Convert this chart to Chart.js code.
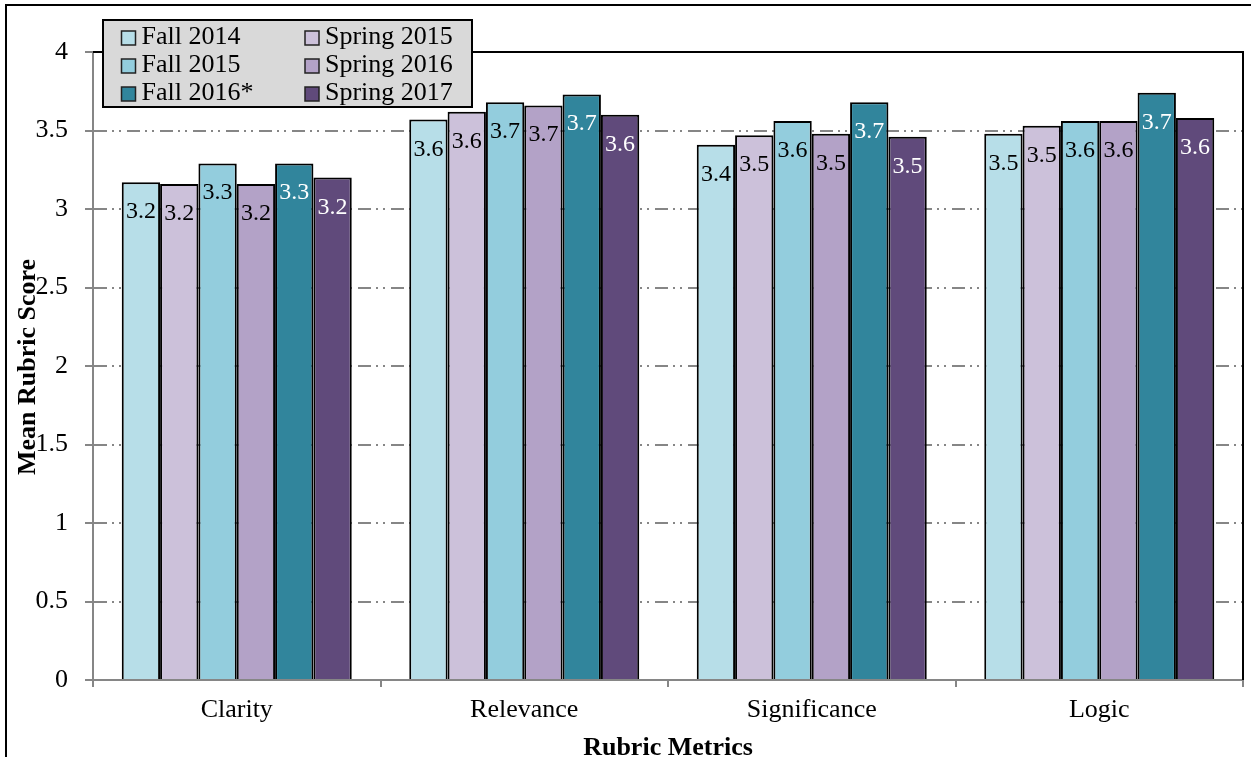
<!DOCTYPE html>
<html><head><meta charset="utf-8">
<script src="https://cdn.jsdelivr.net/npm/chart.js@4.4.0/dist/chart.umd.min.js"></script>
<style>html,body{margin:0;padding:0;background:#fff;} canvas{display:block;}</style>
</head><body>
<canvas id="c" width="1253" height="757"></canvas>
<script>
const categories = ['Clarity', 'Relevance', 'Significance', 'Logic'];
const seriesNames = ['Fall 2014', 'Spring 2015', 'Fall 2015', 'Spring 2016', 'Fall 2016*', 'Spring 2017'];
const fall2014 = [3.17, 3.57, 3.41, 3.48];
const spring2015 = [3.16, 3.62, 3.47, 3.53];
const fall2015 = [3.29, 3.68, 3.56, 3.56];
const spring2016 = [3.16, 3.66, 3.48, 3.56];
const fall2016 = [3.29, 3.73, 3.68, 3.74];
const spring2017 = [3.20, 3.60, 3.46, 3.58];
const yTickLabels = ['0', '0.5', '1', '1.5', '2', '2.5', '3', '3.5', '4'];
const xTitle = 'Rubric Metrics';
const yTitle = 'Mean Rubric Score';

const seriesValues = [fall2014, spring2015, fall2015, spring2016, fall2016, spring2017];
const barColors = ['#B7DEE8', '#CCC1DA', '#93CDDD', '#B3A2C7', '#31859C', '#604A7B'];
const labelColors = ['#000', '#000', '#000', '#000', '#fff', '#fff'];
const FONT = "'Times New Roman', 'Liberation Serif', serif";
const GRAY = '#868686';

const framePlugin = {
  id: 'frame',
  beforeDraw(chart) {
    const ctx = chart.ctx;
    ctx.save();
    ctx.fillStyle = '#fff';
    ctx.fillRect(0, 0, chart.width, chart.height);
    ctx.strokeStyle = '#000';
    ctx.lineWidth = 2;
    ctx.beginPath();
    ctx.moveTo(6, 757);
    ctx.lineTo(6, 5);
    ctx.lineTo(1251, 5);
    ctx.stroke();
    ctx.restore();
  }
};

const labelPlugin = {
  id: 'barLabels',
  afterDatasetsDraw(chart) {
    const ctx = chart.ctx;
    ctx.save();
    ctx.font = '24px ' + FONT;
    ctx.textAlign = 'center';
    ctx.textBaseline = 'alphabetic';
    chart.data.datasets.forEach((ds, i) => {
      const meta = chart.getDatasetMeta(i);
      ctx.fillStyle = labelColors[i];
      meta.data.forEach((bar, j) => {
        ctx.fillText(ds.data[j].toFixed(1), bar.x, bar.y + 36);
      });
    });
    ctx.restore();
  }
};

const decorPlugin = {
  id: 'decor',
  afterDraw(chart) {
    const ctx = chart.ctx;
    const a = chart.chartArea;
    ctx.save();
    ctx.strokeStyle = '#000';
    ctx.lineWidth = 2;
    ctx.beginPath();
    ctx.moveTo(a.left, a.top);
    ctx.lineTo(a.right, a.top);
    ctx.lineTo(a.right, a.bottom);
    ctx.stroke();
    ctx.fillStyle = '#000';
    ctx.font = 'bold 26px ' + FONT;
    ctx.textAlign = 'center';
    ctx.textBaseline = 'alphabetic';
    ctx.fillText(xTitle, (a.left + a.right) / 2, 755);
    ctx.save();
    ctx.translate(35, (a.top + a.bottom) / 2 + 1);
    ctx.rotate(-Math.PI / 2);
    ctx.fillText(yTitle, 0, 0);
    ctx.restore();
    const bx = 103, by = 20, bw = 369, bh = 87;
    ctx.fillStyle = '#D9D9D9';
    ctx.fillRect(bx, by, bw, bh);
    ctx.strokeStyle = '#000';
    ctx.lineWidth = 2;
    ctx.strokeRect(bx, by, bw, bh);
    const colX = [121.5, 305];
    const rowY = [43.5, 71.5, 99.5];
    ctx.font = '26px ' + FONT;
    ctx.textAlign = 'left';
    chart.data.datasets.forEach((ds, i) => {
      const x = colX[i % 2];
      const y = rowY[Math.floor(i / 2)];
      ctx.fillStyle = ds.backgroundColor;
      ctx.fillRect(x, y - 12.5, 14, 14);
      ctx.strokeStyle = '#222';
      ctx.lineWidth = 1.5;
      ctx.strokeRect(x, y - 12.5, 14, 14);
      ctx.fillStyle = '#000';
      ctx.fillText(ds.label, x + 20, y);
    });
    ctx.restore();
  }
};

new Chart(document.getElementById('c'), {
  type: 'bar',
  data: {
    labels: categories,
    datasets: seriesNames.map((name, i) => ({
      label: name,
      data: seriesValues[i],
      backgroundColor: barColors[i],
      borderColor: '#000',
      borderWidth: 2,
      categoryPercentage: 0.8,
      barPercentage: 1.0
    }))
  },
  options: {
    responsive: false,
    devicePixelRatio: 1,
    animation: false,
    layout: { padding: { top: 52, right: 10, left: 0, bottom: 0 } },
    plugins: { legend: { display: false }, tooltip: { enabled: false }, title: { display: false } },
    scales: {
      x: {
        offset: true,
        grid: { offset: true, drawOnChartArea: false, drawTicks: true, tickLength: 7, color: GRAY, lineWidth: 2 },
        border: { display: true, color: GRAY, width: 2 },
        ticks: { font: { family: FONT, size: 26 }, color: '#000', padding: 8, maxRotation: 0, autoSkip: false },
        afterFit: s => { s.height = 77; }
      },
      y: {
        min: 0, max: 4,
        ticks: {
          stepSize: 0.5,
          callback: (v, i) => yTickLabels[i],
          font: { family: FONT, size: 26 }, color: '#000', padding: 17
        },
        grid: { color: GRAY, lineWidth: 2, tickLength: 8, drawTicks: true },
        border: { display: true, color: GRAY, width: 2, dash: [13, 5, 2, 5, 2, 6] },
        afterFit: s => { s.width = 93; }
      }
    }
  },
  plugins: [framePlugin, labelPlugin, decorPlugin]
});
</script>
</body></html>
